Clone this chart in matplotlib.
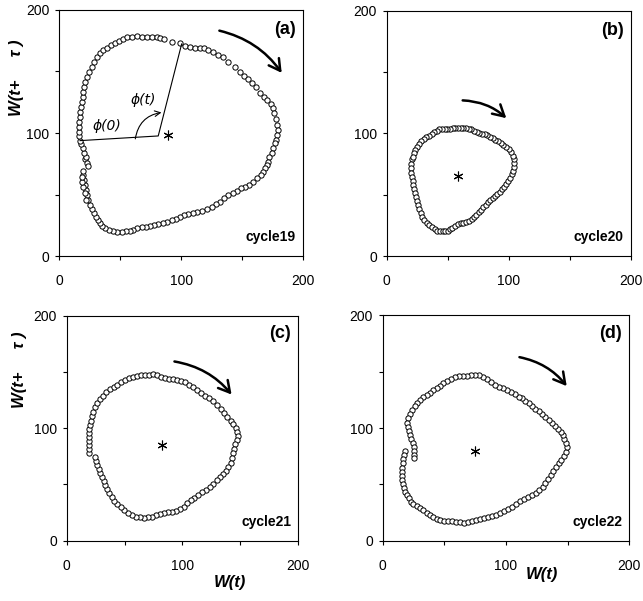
import matplotlib
matplotlib.use("Agg")
import matplotlib.pyplot as plt

plt.rcParams['font.family'] = ['Liberation Sans', 'DejaVu Sans']

# cycle 19 (panel a): W(t), W(t+tau) pairs
c19 = [(28.4, 158), (30.6, 162.1), (33.3, 164.8), (36.1, 167.5), (38.8, 169.4), (42.1, 171.5),
       (45.6, 173.4), (48.9, 175.1), (52.5, 176.2), (55.7, 177.8), (59.3, 178.3), (63.4, 178.9),
       (67.5, 178.3), (71.6, 178.3), (75.7, 178.3), (79.8, 178.3), (82.5, 177.5), (86.1, 176.2),
       (92.1, 174.3), (98.9, 172.9), (103, 170.7), (107.1, 169.6), (111.2, 169.4), (115.3, 168.8),
       (118.6, 168.8), (122.1, 167.5), (126.2, 166.1), (130.3, 163.6), (134.4, 161.5), (138.5, 158),
       (144, 153.9), (148.1, 149.9), (151.6, 146.3), (154.9, 143.6), (158.2, 140.4), (161.2, 137.1),
       (164.5, 132.8), (167.7, 129.5), (169.9, 126.8), (173.2, 123.6), (174.8, 120.1), (175.9, 116),
       (177.6, 111.1), (178.7, 106.5), (179.2, 102.4), (178.1, 98.4), (177.6, 94.3), (176.8, 91.6),
       (175.4, 87.5), (174, 83.5), (172.1, 80.2), (170.8, 76.7), (169.9, 74), (168.6, 71.3),
       (167.2, 68.6), (165, 65.9), (162.3, 63.1), (159, 60.4), (155.7, 57.7), (152.2, 56.4),
       (148.6, 55), (145.3, 53.1), (142.1, 50.9), (138.5, 49.6), (135, 46.9), (131.7, 44.2),
       (128.4, 42.3), (124.9, 40.1), (120.8, 37.9), (116.7, 36.9), (113.1, 35.8), (109.3, 34.7),
       (105.7, 34.1), (102.2, 33.3), (98.9, 32), (95.6, 30.4), (92.1, 29.3), (88.5, 27.9),
       (85.2, 27.1), (81.1, 26), (77.6, 25.2), (74.3, 24.7), (70.8, 23.8), (67.5, 23.3), (63.9, 22.5),
       (60.7, 21.1), (57.9, 20.3), (54.6, 20.1), (51.1, 19.5), (47.5, 19.8), (44.3, 20.6), (41, 21.1),
       (37.7, 22.5), (35.2, 24.4), (33.3, 26.6), (32, 29.3), (30.1, 32), (28.4, 34.7), (26.8, 37.9),
       (25.1, 41.5), (23.8, 45.5), (22.9, 49.6), (21.9, 53.7), (21, 57.7), (20.2, 61.8), (19.7, 65.9),
       (19.1, 69.4), (21.9, 45.5), (21, 50.9), (19.7, 56.4), (18.9, 60.4), (18.3, 64.5),
       (21, 78.6), (22.9, 75.3), (23.8, 73.2), (21.9, 80.8), (20.2, 84), (19.1, 87.5), (17.8, 91.1),
       (16.9, 93.8), (16.4, 97.6), (16.1, 101.1), (16.4, 105.1), (16.4, 109.2), (16.9, 113.3),
       (17.2, 117.3), (17.8, 121.4), (18.3, 125.5), (19.1, 129.5), (19.7, 133.6), (20.2, 137.7),
       (21.3, 141.7), (22.9, 145.8), (24.6, 149.9), (26.5, 153.9)]

# cycle 20 (panel b)
c20 = [(20.5, 78.8), (19.7, 75), (19.9, 71.5), (20.2, 67.9), (20.8, 64.7), (21.3, 61.1), (21.9, 57.6),
       (22.7, 54.3), (23.5, 51.1), (24.3, 47.8), (25.1, 44.6), (26, 41.3), (26.8, 38), (27.9, 34.8),
       (29, 31.8), (30.9, 29.3), (32.8, 27.2), (35, 25.3), (37.2, 23.4), (39.3, 21.7), (41.5, 20.6),
       (43.7, 20.4), (45.9, 20.4), (48.1, 20.4), (50.3, 20.6), (51.9, 21.7), (53.8, 23.1), (56, 24.5),
       (58.2, 25.8), (60.7, 26.6), (62.8, 27.2), (65, 28), (67.5, 28.8), (69.7, 29.9), (71.6, 31.5),
       (73.5, 33.4), (75.4, 35.6), (77.3, 37.5), (79.2, 39.7), (81.1, 41.8), (83.1, 43.7), (85, 45.4),
       (86.9, 47), (88.8, 48.6), (90.7, 50.5), (92.6, 52.4), (94.5, 54.3), (96.4, 56.5), (98.1, 58.7),
       (99.7, 61.1), (101.1, 63.8), (102.4, 66.6), (103.3, 69.6), (104.1, 72.8), (104.6, 75.5),
       (104.4, 78.8), (103.5, 81.8), (101.9, 85), (100, 87.2), (97.8, 88.8), (95.6, 90.2), (93.4, 91.8),
       (91.2, 93.5), (89.1, 94.8), (86.9, 96.2), (84.7, 97.3), (82.5, 98.4), (80.3, 99.2), (78.1, 99.4),
       (75.9, 100), (73.8, 101.1), (71.6, 102.2), (69.4, 103.2), (67.2, 103.8), (65, 104.3),
       (62.8, 104.6), (60.7, 104.6), (58.5, 104.3), (56.3, 104.1), (54.1, 104.1), (51.9, 103.5),
       (49.7, 103.5), (47.5, 103.8), (45.4, 103.8), (43.2, 103.2), (41, 102.2), (39.1, 100.8),
       (36.9, 99.4), (34.7, 98.1), (32.5, 96.7), (30.3, 95.1), (28.1, 93.5), (26.2, 91.3), (24.6, 89.1),
       (23.2, 86.4), (22.1, 83.7), (21.3, 81)]

# cycle 21 (panel c)
c21 = [(19.6, 77.6), (19.6, 81.2), (19.6, 84.7), (19.6, 88.3), (19.6, 91.9), (19.6, 95.4), (19.6, 99),
       (20.1, 102.8), (20.7, 106.7), (21.9, 110.8), (23, 114.7), (24.8, 118.5), (26.5, 122.1),
       (28.8, 125.6), (31.1, 128.9), (34, 131.9), (37.4, 134.5), (40.9, 136.3), (43.7, 138.7),
       (47.2, 141), (50.7, 142.8), (54.1, 144.3), (57.6, 145.8), (61, 146.4), (64.5, 147), (67.9, 147.3),
       (71.4, 147.3), (74.8, 148.2), (78.3, 147.3), (81.7, 145.8), (85.2, 144.9), (88.6, 144),
       (92.1, 143.7), (95.5, 142.8), (99, 142.2), (102.5, 141), (105.9, 138.7), (109.4, 136.3),
       (112.8, 133.9), (116.3, 131.6), (119.7, 128.9), (123.2, 127.1), (126.6, 124.4), (130.1, 120.6),
       (133, 117), (135.8, 113.8), (138.7, 110.2), (141.6, 106.7), (143.9, 103.7), (145.9, 100.2),
       (147.4, 96.6), (147.9, 93), (147.4, 89.5), (145.6, 85.9), (144.5, 81.8), (143.9, 77.6),
       (143, 73.5), (141.6, 69.3), (139.6, 65.8), (137.6, 62.2), (135.3, 59.3), (132.4, 56.9),
       (129.5, 53.9), (126.6, 50.4), (123.8, 47.4), (120.3, 45), (116.8, 43), (113.4, 40.6),
       (110.2, 38.2), (107.1, 36.1), (104.2, 33.2), (101.3, 30.2), (97.9, 27.9), (94.4, 26.7),
       (90.9, 25.8), (87.5, 25.5), (84, 24.9), (80.6, 23.7), (77.1, 22.5), (73.7, 21.3), (70.2, 20.7),
       (66.8, 20.1), (63.3, 20.7), (59.9, 21.3), (56.4, 22.8), (53, 24.9), (49.8, 27.3), (46.6, 29.9),
       (43.7, 32.6), (41.2, 35.6), (38.9, 38.5), (36.8, 42.1), (35.1, 45.6), (33.4, 49.2), (31.9, 52.7),
       (30.5, 56.3), (29.1, 59.9), (27.6, 63.4), (26.5, 67), (25.3, 70.5), (24.5, 74.1)]

# cycle 22 (panel d)
c22 = [(18.1, 79.9), (17.3, 76), (16.8, 72.2), (16.2, 68.6), (15.7, 64.8), (15.4, 61), (15.4, 57.4),
       (15.7, 53.9), (16.2, 50.3), (17, 46.8), (18.1, 43.5), (19.5, 40.5), (21.1, 37.6), (22.7, 34.6),
       (24.9, 32.5), (27.6, 30.8), (30.3, 29), (33, 27.2), (35.7, 24.9), (38.4, 22.8), (41.1, 21.3),
       (43.8, 19.5), (46.5, 18.3), (49.7, 17.5), (53, 17.5), (56.2, 17.2), (59.5, 16.9), (62.7, 16.3),
       (66, 16), (69.2, 16.6), (72.4, 17.8), (75.7, 18.3), (78.9, 19.5), (82.2, 20.1), (85.4, 20.7),
       (88.7, 21.9), (91.9, 23.1), (95.1, 24.9), (98.4, 26.6), (101.6, 28.1), (104.9, 30.2),
       (108.1, 32.5), (111.4, 34.9), (114.6, 36.7), (117.9, 39.1), (121.1, 40.8), (124.3, 42.6),
       (127, 45), (129.7, 47.9), (131.9, 51.5), (134.1, 55), (136.2, 58.6), (138.4, 62.1), (140.6, 65.7),
       (142.7, 68.6), (144.9, 71.6), (147, 75.2), (148.7, 79), (149.2, 82.9), (148.4, 86.4), (147.3, 90),
       (145.9, 93.5), (144.3, 96.5), (142.2, 99.1), (139.7, 101.8), (137.3, 104.2), (134.6, 106.8),
       (131.9, 109.5), (129.2, 112.1), (126.5, 114.8), (123.8, 117.2), (121.1, 119.5), (118.4, 121.9),
       (115.7, 124.3), (113, 126.3), (110.3, 127.8), (107, 130.2), (103.8, 132.3), (100.6, 133.7),
       (97.3, 135.2), (94.1, 136.7), (90.8, 138.5), (87.6, 140.8), (84.3, 143.2), (81.1, 145.6),
       (77.8, 147.1), (74.6, 147.4), (71.4, 146.8), (68.1, 146.2), (64.9, 146.2), (61.6, 145.9),
       (58.4, 145), (55.1, 143.2), (51.9, 141.4), (49.2, 139.7), (46.5, 137.6), (43.8, 135.5),
       (41.1, 133.7), (38.4, 131.4), (35.7, 129.3), (33, 127.2), (30.3, 124.9), (28.1, 122.5),
       (25.9, 119.5), (23.8, 116), (22.2, 112.4), (20.8, 108.6), (20, 104.7), (20.3, 101.2),
       (21.1, 97.6), (22.2, 94.1), (23.2, 90.5), (24.3, 87), (25.1, 83.4), (25.4, 79.9), (25.7, 76.3),
       (25.7, 73.4)]

cycles = [c19, c20, c21, c22]
panel_tags = ['(a)', '(b)', '(c)', '(d)']
cycle_names = ['cycle19', 'cycle20', 'cycle21', 'cycle22']
centers = [(88.8, 98.4), (58.7, 65.2), (82.6, 85.0), (75.1, 79.9)]
arrows = [((129, 183.7), (183.6, 147)), ((60, 127), (99.7, 110.9)),
          ((90.7, 159.7), (143.9, 128)), ((108.7, 163.3), (150.6, 135.2))]

# axes boxes in figure fractions [left, bottom, width, height]
boxes = [[0.0922, 0.574, 0.3795, 0.4094], [0.6014, 0.574, 0.3795, 0.408],
         [0.1037, 0.1003, 0.3602, 0.3744], [0.5952, 0.1003, 0.3835, 0.3751]]

fig = plt.figure(figsize=(6.43, 6.01), dpi=100)

for i in range(4):
    ax = fig.add_axes(boxes[i])
    xs = [p[0] for p in cycles[i]]
    ys = [p[1] for p in cycles[i]]
    ax.plot(xs, ys, linestyle='none', marker='o', markersize=3.8,
            markerfacecolor='white', markeredgecolor='black', markeredgewidth=0.7)
    ax.plot(*centers[i], linestyle='none', marker=(6, 2, 0), markersize=7,
            color='black', markeredgewidth=0.8)
    ax.annotate('', xy=arrows[i][1], xytext=arrows[i][0],
                arrowprops=dict(arrowstyle='->,head_length=0.8,head_width=0.45',
                                connectionstyle='arc3,rad=-0.2', lw=1.8, color='black'))
    ax.set_xlim(0, 200)
    ax.set_ylim(0, 200)
    ax.set_xticks([0, 100, 200])
    ax.set_yticks([0, 100, 200])
    ax.set_xticks([50, 150], minor=True)
    ax.set_yticks([50, 150], minor=True)
    ax.tick_params(which='both', direction='out', length=3, width=0.8)
    ax.tick_params(axis='x', which='major', pad=10, labelsize=10)
    ax.tick_params(axis='y', which='major', pad=4, labelsize=10)
    for s in ax.spines.values():
        s.set_linewidth(0.8)
    ax.text(0.97, 0.92, panel_tags[i], transform=ax.transAxes, ha='right', va='center',
            fontsize=13, fontweight='bold')
    ax.text(0.97, 0.05, cycle_names[i], transform=ax.transAxes, ha='right', va='bottom',
            fontsize=10, fontweight='bold')

    if i == 0:
        ax.plot([17, 81.1, 100.3], [93.8, 97.6, 172.4], color='black', lw=0.8)
        ax.annotate('', xy=(86, 117), xytext=(62, 93),
                    arrowprops=dict(arrowstyle='->,head_length=0.4,head_width=0.2',
                                    connectionstyle='arc3,rad=-0.4', lw=0.8, color='black'))
        ax.text(38.8, 105.7, 'ϕ(0)', fontsize=10, style='italic', ha='center', va='center',
                family=['DejaVu Sans'])
        ax.text(68.8, 126.8, 'ϕ(t)', fontsize=10, style='italic', ha='center', va='center',
                family=['DejaVu Sans'])

fig.text(17 / 643, 1 - 78 / 601, 'W(t+     τ )', rotation=90, ha='center', va='center',
         fontsize=12, fontweight='bold', style='italic')
fig.text(20 / 643, 1 - 370 / 601, 'W(t+     τ )', rotation=90, ha='center', va='center',
         fontsize=12, fontweight='bold', style='italic')
fig.text(230 / 643, 1 - 583 / 601, 'W(t)', ha='center', va='center',
         fontsize=12, fontweight='bold', style='italic')
fig.text(542 / 643, 1 - 575 / 601, 'W(t)', ha='center', va='center',
         fontsize=12, fontweight='bold', style='italic')

fig.savefig('out.png', dpi=100)
